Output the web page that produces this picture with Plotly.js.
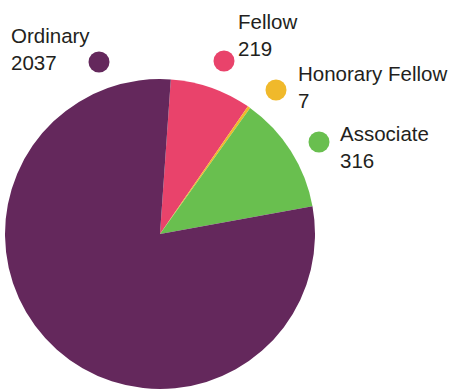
<!DOCTYPE html>
<html>
<head>
<meta charset="utf-8">
<script src="https://cdn.plot.ly/plotly-3.0.1.min.js"></script>
<style>html,body{margin:0;padding:0;background:#fff;}#chart{width:456px;height:390px;}</style>
</head>
<body>
<div id="chart"></div>
<script>
const categories = ["Fellow", "Honorary Fellow", "Associate", "Ordinary"];
const values = [219, 7, 316, 2037];
const colors = ["#E9436B", "#F0B92B", "#69BF4F", "#64285C"];

const W = 456, H = 390;
const px = x => x / W;
const py = y => 1 - y / H;

// label layout (pixel positions): dot centre and text top-left
const labelPos = {
  "Ordinary":        {dot: [99, 62],  text: [9, 22]},
  "Fellow":          {dot: [224, 61], text: [236, 8]},
  "Honorary Fellow": {dot: [276, 90], text: [296, 60]},
  "Associate":       {dot: [319, 142], text: [338, 120]}
};

const annotations = [];
const shapes = [];
const R = 10.5;
categories.forEach((c, i) => {
  const p = labelPos[c];
  annotations.push({
    xref: "paper", yref: "paper",
    x: px(p.text[0]), y: py(p.text[1]),
    xanchor: "left", yanchor: "top", align: "left",
    showarrow: false,
    text: c + "<br>" + values[i],
    font: {family: "Liberation Sans, Arial, sans-serif", size: 20.5, color: "#231F20"}
  });
  shapes.push({
    type: "circle", xref: "paper", yref: "paper",
    x0: px(p.dot[0] - R), x1: px(p.dot[0] + R),
    y0: py(p.dot[1] + R), y1: py(p.dot[1] - R),
    fillcolor: colors[i], line: {width: 0}
  });
});

const data = [{
  type: "pie",
  labels: categories,
  values: values,
  marker: {colors: colors, line: {width: 0}},
  sort: false,
  direction: "clockwise",
  rotation: 4,
  textinfo: "none",
  hoverinfo: "label+value",
  domain: {x: [px(5), px(315)], y: [py(389), py(79)]}
}];

const layout = {
  width: W, height: H,
  margin: {l: 0, r: 0, t: 0, b: 0},
  paper_bgcolor: "#ffffff",
  showlegend: false,
  annotations: annotations,
  shapes: shapes
};

Plotly.newPlot("chart", data, layout, {displayModeBar: false, staticPlot: true});
</script>
</body>
</html>
